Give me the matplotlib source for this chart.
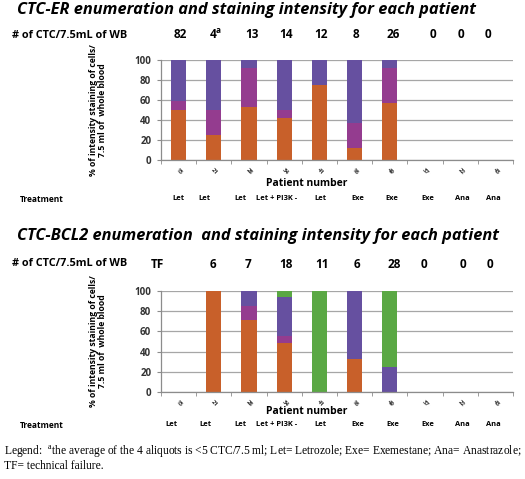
import matplotlib
matplotlib.use("Agg")
import matplotlib.pyplot as plt
import numpy as np

plt.rcParams['font.family'] = ['Open Sans', 'DejaVu Sans']

W, H = 525, 479

patients = ['15', '21', '28', '34', '41', '16', '49', '37', '22', '43']
treatments = ['Let', 'Let', 'Let', 'Let + PI3K -', 'Let', 'Exe', 'Exe', 'Exe', 'Ana', 'Ana']

# CTC-ER
er_counts = ['82', '4$^\\mathregular{a}$', '13', '14', '12', '8', '26', '0', '0', '0']
er_orange = [50, 25, 53, 42, 75, 12, 57, 0, 0, 0]
er_magenta = [9, 25, 39, 8, 0, 25, 35, 0, 0, 0]
er_purple = [41, 50, 8, 50, 25, 63, 8, 0, 0, 0]

# CTC-BCL2
bcl_counts = ['TF', '6', '7', '18', '11', '6', '28', '0', '0', '0']
bcl_orange = [0, 100, 71, 49, 0, 33, 0, 0, 0, 0]
bcl_magenta = [0, 0, 14, 6, 0, 0, 0, 0, 0, 0]
bcl_purple = [0, 0, 15, 39, 0, 67, 25, 0, 0, 0]
bcl_green = [0, 0, 0, 6, 100, 0, 75, 0, 0, 0]

C_OR = '#C8602A'
C_MG = '#943C8F'
C_PU = '#6650A0'
C_GR = '#5AA844'

fig = plt.figure(figsize=(W / 100, H / 100), dpi=100)


def ftext(x, y, s, **kw):
    fig.text(x / W, 1 - y / H, s, **kw)


def make_axes(top, bottom):
    ax = fig.add_axes([161 / W, 1 - bottom / H, 352 / W, (bottom - top) / H])
    return ax


def style_axes(ax):
    ax.set_xlim(-0.5, 9.5)
    ax.set_ylim(0, 100)
    ax.set_yticks(np.arange(0, 101, 20))
    ax.yaxis.grid(True, color='#A6A6A6', linewidth=0.9)
    ax.set_axisbelow(True)
    for s in ['top', 'right']:
        ax.spines[s].set_visible(False)
    for s in ['left', 'bottom']:
        ax.spines[s].set_color('#8C8C8C')
        ax.spines[s].set_linewidth(0.9)
    ax.tick_params(axis='y', length=3, color='#8C8C8C', labelsize=7, pad=4)
    for t in ax.get_yticklabels():
        t.set_fontweight('bold')
        t.set_color('#333333')
    ax.set_xticks(np.arange(10))
    ax.set_xticklabels(patients, rotation=-45, fontsize=4.3, color='#333333',
                       ha='left', va='top', rotation_mode='anchor', fontweight='bold')
    ax.tick_params(axis='x', length=0, pad=5)
    ax.set_xticks(np.arange(-0.5, 10, 1), minor=True)
    ax.tick_params(axis='x', which='minor', length=3, color='#8C8C8C')


x = np.arange(10)
bw = 0.43

# ---------- Top chart ----------
ax1 = make_axes(60, 160)
b = np.zeros(10)
for vals, c in [(er_orange, C_OR), (er_magenta, C_MG), (er_purple, C_PU)]:
    ax1.bar(x, vals, bw, bottom=b, color=c, zorder=2)
    b = b + np.array(vals)
style_axes(ax1)

# ---------- Bottom chart ----------
ax2 = make_axes(291, 392)
b = np.zeros(10)
for vals, c in [(bcl_orange, C_OR), (bcl_magenta, C_MG), (bcl_purple, C_PU), (bcl_green, C_GR)]:
    ax2.bar(x, vals, bw, bottom=b, color=c, zorder=2)
    b = b + np.array(vals)
style_axes(ax2)

# ---------- Texts ----------
title_kw = dict(fontsize=11.8, fontweight='bold', style='italic', va='center', ha='left')
ftext(17, 10, 'CTC-ER enumeration and staining intensity for each patient', **title_kw)
ftext(17, 236, 'CTC-BCL2 enumeration  and staining intensity for each patient', **title_kw)

row_kw = dict(fontsize=7.8, fontweight='bold', va='center')
ftext(12, 35, '# of CTC/7.5mL of WB', ha='left', **row_kw)
ftext(12, 264, '# of CTC/7.5mL of WB', ha='left', **row_kw)

er_count_x = [180, 216, 252, 286, 321, 356, 393, 433, 461, 488]
bcl_count_x = [157, 213, 248, 286, 322, 357, 394, 424, 463, 490]
for s, px in zip(er_counts, er_count_x):
    ftext(px, 35, s, ha='center', fontsize=8.5, fontweight='bold', va='center')
for s, px in zip(bcl_counts, bcl_count_x):
    ftext(px, 264, s, ha='center', fontsize=8.5, fontweight='bold', va='center')

ylab = '% of intensity staining of cells/\n7.5 ml of  whole blood'
for yc in [110, 341]:
    ftext(98, yc, ylab, rotation=90, ha='center', va='center', fontsize=6.2,
          fontweight='bold', linespacing=1.1)

for yc in [184, 411]:
    ftext(307, yc, 'Patient number', ha='center', va='center', fontsize=7.5, fontweight='bold')

er_treat_x = [178, 204, 240, 277, 320, 358, 392, 428, 462, 493]
bcl_treat_x = [171, 205, 240, 277, 320, 358, 393, 428, 462, 493]
for yc, xs in [(199, er_treat_x), (425, bcl_treat_x)]:
    ftext(20, yc, 'Treatment', ha='left', va='center', fontsize=6, fontweight='bold')
    for s, px in zip(treatments, xs):
        ftext(px, yc, s, ha='center', va='center', fontsize=5.4, fontweight='bold')

leg_kw = dict(fontsize=8.3, family='Liberation Serif', ha='left', va='center')
ftext(4, 452, 'Legend:  $^\\mathregular{a}$the average of the 4 aliquots is <5 CTC/7.5 ml; Let= Letrozole; '
      'Exe= Exemestane; Ana= Anastrazole;', **leg_kw)
ftext(4, 466, 'TF= technical failure.', **leg_kw)

fig.savefig('out.png', dpi=100)
